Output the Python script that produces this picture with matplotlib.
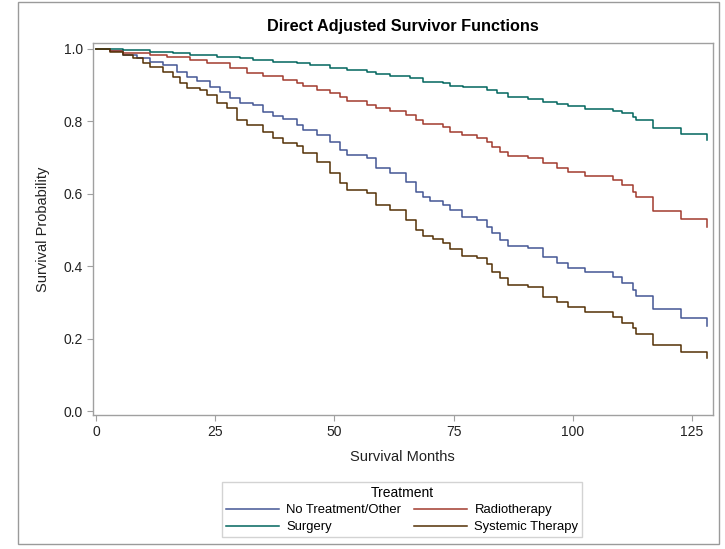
import matplotlib
matplotlib.use("Agg")
import matplotlib.pyplot as plt
from matplotlib.lines import Line2D
from matplotlib.patches import Rectangle

plt.rcParams['font.family'] = ['Liberation Sans', 'DejaVu Sans']

# --------------------------------------------------
# Data (step points: month, survival)
# --------------------------------------------------
notx_months = [0, 2.9, 5.7, 8.5, 11.3, 14.1, 16.9, 19.0, 21.1, 23.9, 26.0, 28.1,
               30.2, 33.0, 35.1, 37.2, 39.3, 42.1, 43.5, 46.3, 49.1, 51.2, 52.6,
               56.8, 58.8, 61.6, 65.1, 67.2, 68.6, 70.0, 72.8, 74.2, 76.7, 79.8,
               81.9, 83.0, 84.7, 86.4, 90.6, 93.8, 96.6, 99.0, 102.5, 108.5,
               110.3, 112.6, 113.2, 116.7, 122.6, 128.2]
notx_surv = [1.0, 0.995, 0.983, 0.974, 0.965, 0.956, 0.937, 0.924, 0.912, 0.895,
             0.880, 0.866, 0.852, 0.845, 0.827, 0.815, 0.806, 0.790, 0.776, 0.762,
             0.744, 0.721, 0.707, 0.698, 0.670, 0.657, 0.633, 0.606, 0.592, 0.581,
             0.569, 0.555, 0.537, 0.528, 0.509, 0.491, 0.472, 0.456, 0.449, 0.426,
             0.410, 0.396, 0.383, 0.369, 0.353, 0.334, 0.317, 0.281, 0.258, 0.235]

radio_months = [0, 2.9, 5.7, 11.3, 14.8, 19.7, 23.2, 28.1, 31.6, 35.1, 39.3, 42.1,
                43.5, 46.3, 49.1, 51.2, 52.6, 56.8, 58.8, 61.6, 65.1, 67.2, 68.6,
                72.8, 74.2, 76.7, 79.8, 81.9, 83.0, 84.7, 86.4, 90.6, 93.8, 96.6,
                99.0, 102.5, 108.5, 110.3, 112.6, 113.2, 116.7, 122.6, 128.2]
radio_surv = [1.0, 0.995, 0.990, 0.983, 0.979, 0.970, 0.960, 0.947, 0.934, 0.925,
              0.914, 0.905, 0.898, 0.888, 0.878, 0.867, 0.857, 0.845, 0.838, 0.830,
              0.818, 0.804, 0.793, 0.784, 0.772, 0.762, 0.755, 0.744, 0.730, 0.716,
              0.705, 0.698, 0.684, 0.672, 0.661, 0.650, 0.638, 0.624, 0.606, 0.592,
              0.553, 0.530, 0.507]

surg_months = [0, 5.7, 11.3, 16.2, 19.7, 25.3, 30.2, 33.0, 37.2, 42.1, 44.9, 49.1,
               52.6, 56.8, 58.8, 61.6, 65.8, 68.6, 72.8, 74.2, 77.0, 81.9, 84.0,
               86.4, 90.6, 93.8, 96.6, 99.0, 102.5, 108.5, 110.3, 112.6, 113.2,
               116.7, 122.6, 128.2]
surg_surv = [1.0, 0.997, 0.993, 0.988, 0.983, 0.979, 0.974, 0.970, 0.965, 0.960,
             0.956, 0.947, 0.942, 0.937, 0.931, 0.926, 0.921, 0.910, 0.905, 0.899,
             0.894, 0.887, 0.878, 0.867, 0.863, 0.854, 0.847, 0.843, 0.834, 0.829,
             0.822, 0.811, 0.804, 0.781, 0.765, 0.750]

syst_months = [0, 2.9, 5.7, 7.8, 9.9, 11.3, 14.1, 16.2, 17.6, 19.0, 21.8, 23.2,
               25.3, 27.4, 29.5, 31.6, 35.1, 37.2, 39.3, 42.1, 43.5, 46.3, 49.1,
               51.2, 52.6, 56.8, 58.8, 61.6, 65.1, 67.2, 68.6, 70.7, 72.8, 74.2,
               76.7, 79.8, 81.9, 83.0, 84.7, 86.4, 90.6, 93.8, 96.6, 99.0, 102.5,
               108.5, 110.3, 112.6, 113.2, 116.7, 122.6, 128.2]
syst_surv = [1.0, 0.993, 0.983, 0.974, 0.960, 0.951, 0.937, 0.924, 0.905, 0.891,
             0.887, 0.873, 0.850, 0.836, 0.804, 0.790, 0.772, 0.753, 0.740, 0.732,
             0.712, 0.689, 0.657, 0.629, 0.610, 0.601, 0.569, 0.555, 0.528, 0.500,
             0.483, 0.474, 0.463, 0.447, 0.428, 0.422, 0.406, 0.385, 0.367, 0.348,
             0.343, 0.316, 0.302, 0.288, 0.273, 0.260, 0.244, 0.228, 0.214, 0.182,
             0.162, 0.146]

labels = ["No Treatment/Other", "Radiotherapy", "Surgery", "Systemic Therapy"]
colors = ["#445694", "#A23A2E", "#01665E", "#543005"]

# --------------------------------------------------
# Figure
# --------------------------------------------------
fig = plt.figure(figsize=(7.25, 5.49), dpi=100)
ax = fig.add_axes([0.1279, 0.2441, 0.855, 0.677])

# outer graph frame
fig.patches.append(Rectangle((18 / 725, 1 - 544 / 549), 701 / 725, 542 / 549,
                             transform=fig.transFigure, fill=False,
                             edgecolor='#9a9a9a', linewidth=1.0))

series = [(notx_months, notx_surv), (radio_months, radio_surv),
          (surg_months, surg_surv), (syst_months, syst_surv)]
for (t, s), c in zip(series, colors):
    ax.step(t, s, where='post', color=c, linewidth=1.1)

ax.set_xlim(-0.7, 129.3)
ax.set_ylim(-0.011, 1.0157)
ax.set_xticks([0, 25, 50, 75, 100, 125])
ax.set_yticks([0.0, 0.2, 0.4, 0.6, 0.8, 1.0])
ax.set_yticklabels(["0.0", "0.2", "0.4", "0.6", "0.8", "1.0"])

for sp in ax.spines.values():
    sp.set_color('#a0a0a0')
    sp.set_linewidth(1.0)
ax.tick_params(direction='out', length=4, width=0.8, color='#a0a0a0',
               labelsize=10, labelcolor='#222222', pad=3)

ax.set_xlabel("Survival Months", fontsize=10.5, color='#222222', labelpad=8)
ax.set_ylabel("Survival Probability", fontsize=10.5, color='#222222', labelpad=10)
ax.set_title("Direct Adjusted Survivor Functions", fontsize=11.7,
             fontweight='bold', pad=9)

# legend filled row by row: matplotlib fills columns, so reorder
handles = [Line2D([0], [0], color=c, linewidth=1.1) for c in colors]
order = [0, 2, 1, 3]
leg = fig.legend([handles[i] for i in order], [labels[i] for i in order],
                 title="Treatment", ncol=2, loc='center',
                 bbox_to_anchor=(0.555, 0.072), fontsize=9.4, title_fontsize=10,
                 frameon=True, fancybox=False, handlelength=4.0,
                 columnspacing=1.0, handletextpad=0.6, labelspacing=0.35,
                 borderpad=0.3, borderaxespad=0)
leg.get_frame().set_edgecolor('#c8c8c8')
leg.get_frame().set_linewidth(1.0)

plt.savefig('out.png', dpi=100)
